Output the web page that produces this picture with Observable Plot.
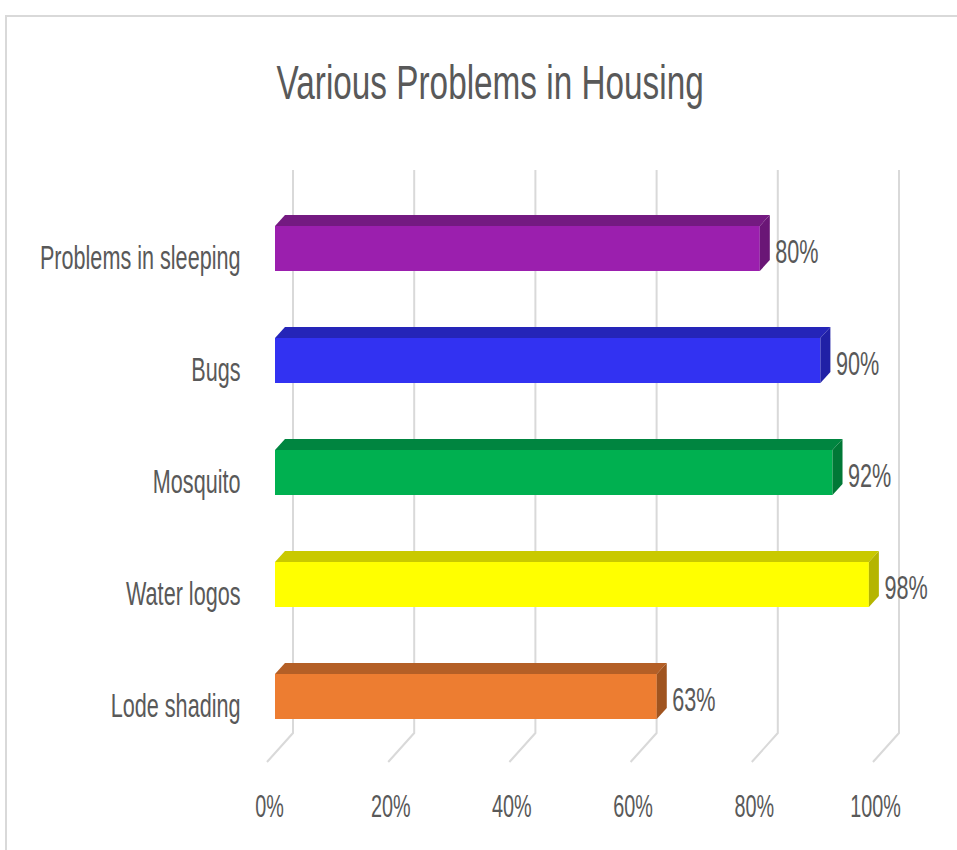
<!DOCTYPE html>
<html>
<head>
<meta charset="utf-8">
<script src="https://cdn.jsdelivr.net/npm/d3@7"></script>
<script src="https://cdn.jsdelivr.net/npm/@observablehq/plot@0.6"></script>
<style>
  html, body { margin: 0; padding: 0; background: #fff; overflow: hidden; }
  #wrap { position: relative; width: 957px; height: 850px; }
  #frame { position: absolute; left: 5px; top: 15px; width: 1000px; height: 900px;
           border-top: 2px solid #d9d9d9; border-left: 2px solid #d9d9d9; box-sizing: border-box; }
  #title { position: absolute; left: 0; top: 58px; width: 980px; text-align: center;
           font-family: "Liberation Sans", Arial, sans-serif; font-size: 49px; line-height: 1; color: #595959; }
  #title span { display: inline-block; transform: scaleX(0.68); transform-origin: center; }
  #chart { position: absolute; left: 0; top: 0; }
</style>
</head>
<body>
<div id="wrap">
  <div id="frame"></div>
  <div id="chart"></div>
  <div id="title"><span>Various Problems in Housing</span></div>
</div>
<script>
const categories = ["Problems in sleeping", "Bugs", "Mosquito", "Water logos", "Lode shading"];
const shares = [0.80, 0.90, 0.92, 0.98, 0.63];
const faceColors = ["#9b1fae", "#3232f2", "#00b050", "#ffff00", "#ed7d31"];
const topColors = ["#741a81", "#2525b8", "#008540", "#c9c900", "#b45f26"];
const sideColors = ["#6a1676", "#2020a6", "#007836", "#b5b500", "#a0541f"];
const xTicks = [0, 0.2, 0.4, 0.6, 0.8, 1];

const data = categories.map((c, i) => ({cat: c, value: shares[i], face: faceColors[i], top: topColors[i], side: sideColors[i]}));
const pct = d => Math.round(d * 100) + "%";

// back wall + floor gridlines
function gridWall(index, scales, channels, dims) {
  const x = scales.x;
  const g = d3.create("svg:g").attr("stroke", "#d9d9d9").attr("stroke-width", 2).attr("fill", "none");
  const yTop = dims.marginTop - 21;
  const yFloor = dims.height - dims.marginBottom - 20;
  for (const t of xTicks) {
    const bx = x(t) + 18;
    g.append("path").attr("d", `M${bx},${yTop}V${yFloor}L${bx - 26},${yFloor + 29}`);
  }
  return g.node();
}

// top and side faces of the 3D bars
function faces3d(index, scales, channels, dims) {
  const x = scales.x, y = scales.y;
  const n = categories.length;
  const bw = (y && typeof y.bandwidth === "function") ? y.bandwidth()
    : ((dims.height - dims.marginTop - dims.marginBottom) / n) * 0.4;
  const g = d3.create("svg:g");
  data.forEach(d => {
    const x0 = x(0), x1 = x(d.value), yT = y(d.cat), yB = yT + bw;
    g.append("path").attr("fill", d.top)
      .attr("d", `M${x0},${yT}L${x0 + 10},${yT - 11}H${x1 + 10}L${x1},${yT}Z`);
    g.append("path").attr("fill", d.side)
      .attr("d", `M${x1},${yT}L${x1 + 10},${yT - 11}V${yB - 11}L${x1},${yB}Z`);
  });
  return g.node();
}

const plot = Plot.plot({
  width: 957,
  height: 850,
  marginLeft: 275,
  marginRight: 76,
  marginTop: 191,
  marginBottom: 97,
  style: {background: "transparent", color: "#595959", fontFamily: "'Liberation Sans', Arial, sans-serif"},
  x: {domain: [0, 1], label: null},
  y: {domain: categories, paddingInner: 0.6, paddingOuter: 0.3, label: null},
  color: {type: "identity"},
  marks: [
    gridWall,
    Plot.barX(data, {x1: 0, x2: "value", y: "cat", fill: "face"}),
    faces3d,
    Plot.text(data, {x: "value", y: "cat", text: d => pct(d.value), dx: 15, dy: 3.5,
                     textAnchor: "start", fill: "#595959", fontSize: 33.5}),
    Plot.axisX({ticks: xTicks, tickFormat: pct, tickSize: 0, tickPadding: 42, dx: -6, fontSize: 30.7, fill: "#595959", label: null}),
    Plot.axisY({tickSize: 0, tickPadding: 35, dy: 9, fontSize: 33.5, fill: "#595959", label: null})
  ]
});

document.getElementById("chart").appendChild(plot);

// condense glyphs horizontally (narrow, tall typeface look)
const K = 0.645;
plot.querySelectorAll("text").forEach(t => {
  const w = t.getComputedTextLength();
  if (w > 0) {
    t.setAttribute("textLength", (w * K).toFixed(2));
    t.setAttribute("lengthAdjust", "spacingAndGlyphs");
  }
});
</script>
</body>
</html>
